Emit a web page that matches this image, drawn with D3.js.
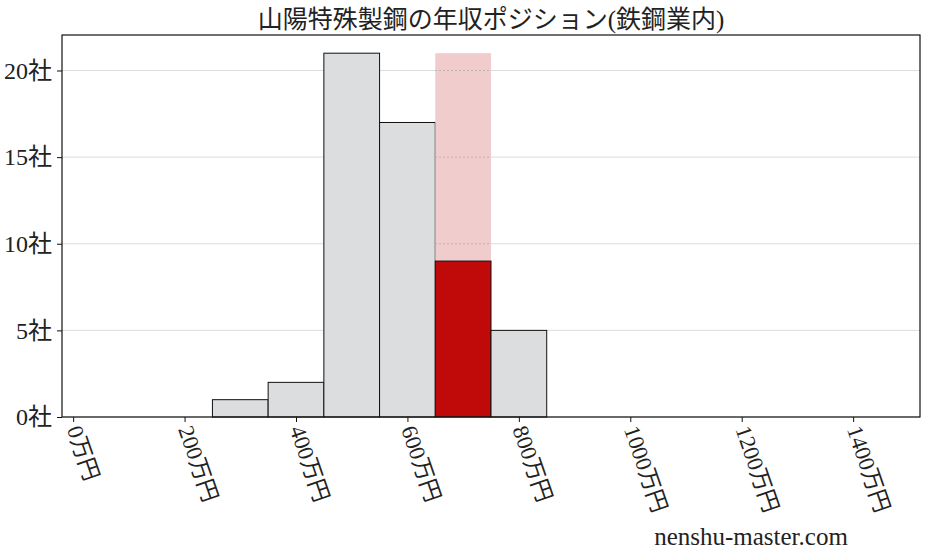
<!DOCTYPE html>
<html>
<head>
<meta charset="utf-8">
<script src="https://cdn.jsdelivr.net/npm/d3@7"></script>
<style>
  body { margin: 0; background: #fff; }
  text { font-family: "Liberation Serif", "Noto Sans CJK JP", serif; fill: #222; }
</style>
</head>
<body>
<svg class="chart" width="928" height="557"></svg>
<script>
// histogram bins (万円) and company counts
var binStarts = [250, 350, 450, 550, 650, 750];
var binWidth = 100;
var counts = [1, 2, 21, 17, 21, 5];
var highlightBin = 650;      // industry bin where this company sits
var highlightCount = 9;      // red part
var xTicks = [0, 200, 400, 600, 800, 1000, 1200, 1400];
var yTicks = [0, 5, 10, 15, 20];
var title = "山陽特殊製鋼の年収ポジション(鉄鋼業内)";

var width = 928, height = 557;
var margin = { top: 35, right: 8, bottom: 140, left: 62 };

var svg = d3.select(".chart");

var x = d3.scaleLinear()
  .domain([-20, 1520])
  .range([margin.left, width - margin.right]);
var y = d3.scaleLinear()
  .domain([0, 22.05])
  .range([height - margin.bottom, margin.top]);

// grid lines
svg.append("g")
  .selectAll("line")
  .data(yTicks)
  .enter().append("line")
  .attr("x1", margin.left).attr("x2", width - margin.right)
  .attr("y1", function(d) { return y(d); })
  .attr("y2", function(d) { return y(d); })
  .attr("stroke", "#dcdcdc")
  .attr("stroke-width", 1);

// bars
var bars = svg.append("g");
binStarts.forEach(function(b, i) {
  var isHi = b === highlightBin;
  bars.append("rect")
    .attr("x", x(b))
    .attr("width", x(b + binWidth) - x(b))
    .attr("y", y(counts[i]))
    .attr("height", y(0) - y(counts[i]))
    .attr("fill", isHi ? "#f0cccc" : "#dcdddf")
    .attr("stroke", isHi ? "none" : "#111")
    .attr("stroke-width", 1);
  if (isHi) {
    bars.append("rect")
      .attr("x", x(b))
      .attr("width", x(b + binWidth) - x(b))
      .attr("y", y(highlightCount))
      .attr("height", y(0) - y(highlightCount))
      .attr("fill", "#c00a0a")
      .attr("stroke", "#111")
      .attr("stroke-width", 1);
    // dotted grid showing through the pink bar
    bars.selectAll(".dotgrid")
      .data(yTicks.filter(function(t) { return t > highlightCount && t <= counts[i]; }))
      .enter().append("line")
      .attr("x1", x(b)).attr("x2", x(b + binWidth))
      .attr("y1", function(d) { return y(d); })
      .attr("y2", function(d) { return y(d); })
      .attr("stroke", "#aaa")
      .attr("stroke-dasharray", "1.5,2.5");
  }
});

// frame
svg.append("rect")
  .attr("x", margin.left).attr("y", margin.top)
  .attr("width", width - margin.right - margin.left)
  .attr("height", height - margin.bottom - margin.top)
  .attr("fill", "none")
  .attr("stroke", "#111")
  .attr("stroke-width", 1.2);

// x axis
var xAxis = svg.append("g")
  .attr("transform", "translate(0," + y(0) + ")")
  .call(d3.axisBottom(x).tickValues(xTicks).tickSize(5).tickPadding(4)
    .tickFormat(function(d) { return d + "万円"; }));
xAxis.select(".domain").remove();
xAxis.selectAll("line").attr("stroke", "#111");
xAxis.selectAll("text")
  .attr("font-size", 22.5)
  .attr("text-anchor", "start")
  .attr("dy", "0")
  .attr("transform", "translate(-7,12) rotate(71)")
  .attr("y", 0)
  .attr("x", 0)
  .style("font-family", "'Liberation Serif','Noto Sans CJK JP',serif")
  .style("fill", "#222");

// y axis
var yAxis = svg.append("g")
  .attr("transform", "translate(" + margin.left + ",0)")
  .call(d3.axisLeft(y).tickValues(yTicks).tickSize(5).tickPadding(5)
    .tickFormat(function(d) { return d + "社"; }));
yAxis.select(".domain").remove();
yAxis.selectAll("line").attr("stroke", "#111");
yAxis.selectAll("text")
  .attr("font-size", 24)
  .style("font-family", "'Liberation Serif','Noto Sans CJK JP',serif")
  .style("fill", "#222");

// title
svg.append("text")
  .attr("x", 491)
  .attr("y", 28)
  .attr("text-anchor", "middle")
  .attr("font-size", 25)
  .text(title);

// watermark
svg.append("text")
  .attr("x", 751)
  .attr("y", 545)
  .attr("text-anchor", "middle")
  .attr("font-size", 25)
  .text("nenshu-master.com");
</script>
</body>
</html>
